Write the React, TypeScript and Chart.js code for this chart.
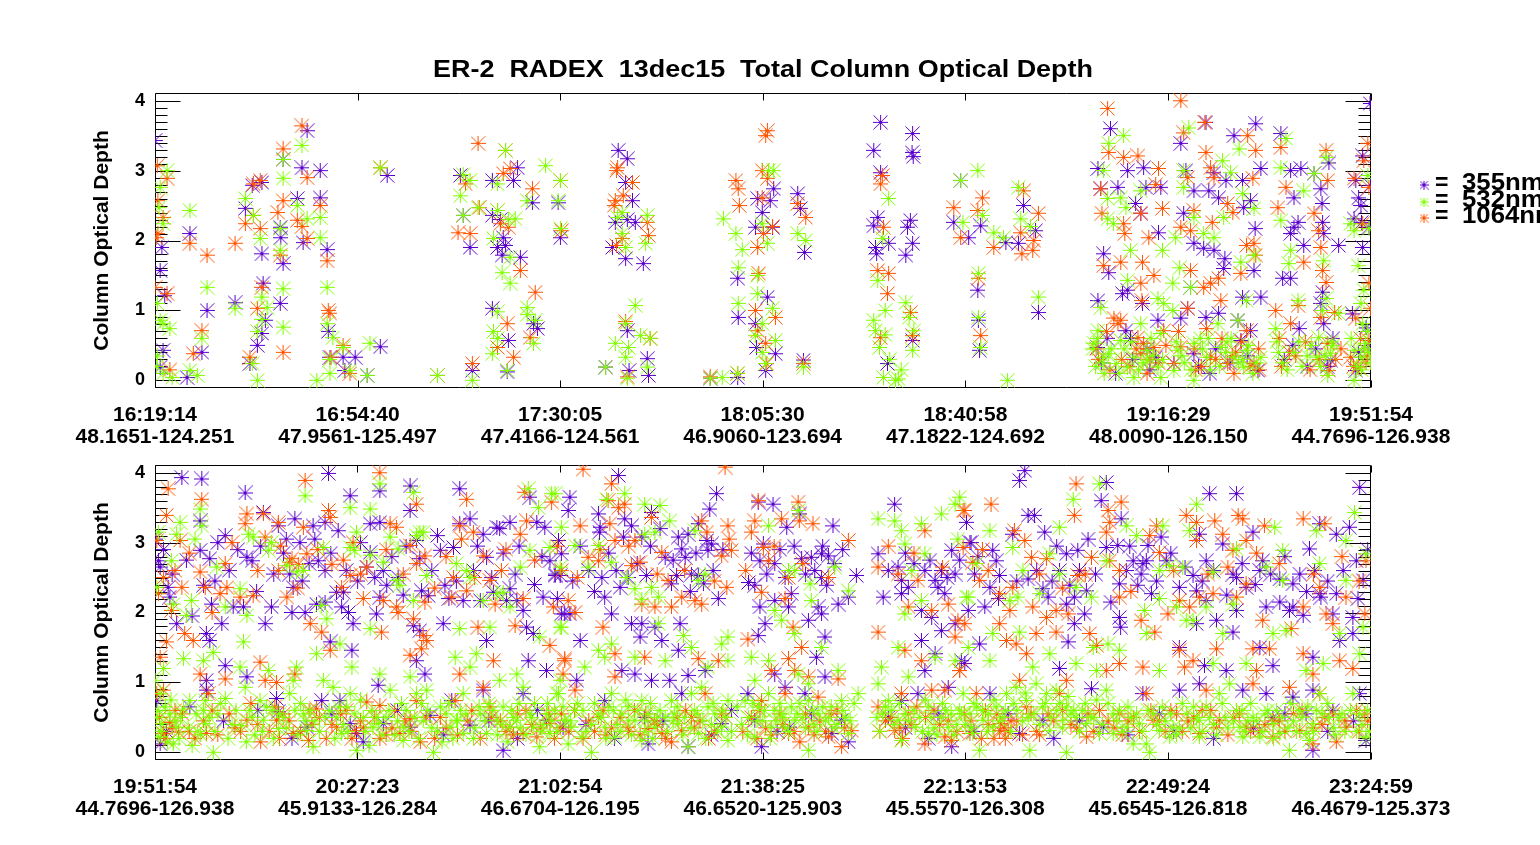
import React, { useEffect, useRef } from "react";
import { Chart, registerables } from "chart.js";

Chart.register(...registerables);

// ---------- axis labels ----------
const topTimes = ["16:19:14", "16:54:40", "17:30:05", "18:05:30", "18:40:58", "19:16:29", "19:51:54"];
const topCoords = ["48.1651-124.251", "47.9561-125.497", "47.4166-124.561", "46.9060-123.694", "47.1822-124.692", "48.0090-126.150", "44.7696-126.938"];
const botTimes = ["19:51:54", "20:27:23", "21:02:54", "21:38:25", "22:13:53", "22:49:24", "23:24:59"];
const botCoords = ["44.7696-126.938", "45.9133-126.284", "46.6704-126.195", "46.6520-125.903", "45.5570-126.308", "45.6545-126.818", "46.4679-125.373"];
const yTicks = [0, 1, 2, 3, 4];
const titleText = "ER-2  RADEX  13dec15  Total Column Optical Depth";
const yTitle = "Column Optical Depth";
const legendLabels = ["355nm", "532nm", "1064nm"];

// ---------- data: [minutes after panel start, column optical depth] ----------
const top355 = [
[0.0,3.43],[0.9,1.57],[1.7,1.21],[1.2,1.9],[1.4,0.43],[0.9,0.19],[8.2,0.4],[5.6,0.04],[6.1,2.1],[9.1,1.0],[14.0,1.11],[17.0,2.79],[18.7,2.83],[15.8,2.46],[18.7,1.81],[18.9,1.39],[19.3,0.86],[18.7,0.67],[17.9,0.5],[16.6,0.24],[22.4,3.16],[26.6,3.57],[25.7,3.04],[28.9,3.0],[21.9,2.19],[22.0,2.04],[22.4,1.67],[21.9,1.1],[24.9,2.6],[25.9,1.97],[28.9,2.61],[30.1,1.87],[30.3,0.7],[30.6,0.33],[35.0,0.33],[32.9,0.33],[33.2,0.14],[37.1,0.07],[39.4,0.48],[40.6,2.93],[49.4,0.07],[55.5,0.14],[53.4,2.93],[53.9,2.36],[55.1,1.9],[59.0,2.86],[62.7,2.86],[63.4,3.04],[59.0,2.36],[60.4,2.3],[60.9,2.04],[59.9,1.9],[60.7,1.79],[61.3,1.93],[63.9,1.76],[66.0,2.54],[59.0,1.03],[61.8,0.57],[61.6,0.12],[66.2,0.81],[66.9,0.74],[70.5,2.54],[70.9,2.04],[81.0,3.29],[82.6,3.17],[82.3,2.83],[83.5,2.57],[80.5,2.26],[82.6,2.3],[84.0,2.26],[80.0,1.9],[82.3,1.74],[85.4,1.67],[82.6,0.71],[86.1,0.31],[86.3,0.07],[82.9,0.14],[78.8,0.19],[97.1,0.03],[101.9,0.04],[105.4,2.6],[107.6,2.57],[108.2,2.74],[105.0,2.19],[108.0,2.19],[106.2,2.4],[101.9,1.46],[102.0,0.9],[107.1,1.19],[105.0,0.81],[105.2,0.47],[108.5,0.38],[106.8,0.14],[112.4,2.67],[112.9,2.46],[113.6,1.83],[113.4,0.29],[126.9,3.69],[125.7,3.29],[132.5,3.53],[132.4,3.26],[132.6,3.2],[126.9,2.97],[126.4,2.33],[125.7,2.21],[126.0,1.9],[126.2,1.81],[128.3,1.96],[132.1,2.29],[132.5,1.96],[131.3,1.79],[131.6,2.19],[128.1,0.24],[132.5,0.57],[140.9,2.86],[139.7,2.26],[142.3,2.04],[144.4,2.21],[148.8,1.97],[151.9,2.5],[151.0,1.96],[154.0,2.14],[143.9,1.29],[144.0,0.86],[144.2,0.43],[154.5,0.97],[167.1,3.6],[164.9,3.03],[170.1,3.0],[172.9,3.04],[165.4,2.74],[168.4,2.76],[171.5,2.53],[172.4,2.39],[175.5,2.11],[175.9,2.76],[173.3,2.76],[165.9,1.81],[166.8,1.54],[170.1,1.29],[169.2,1.24],[172.7,1.1],[164.9,1.14],[169.8,0.71],[164.9,0.47],[175.4,0.86],[175.0,0.33],[170.6,0.6],[179.4,3.39],[183.8,3.69],[180.3,3.0],[185.2,2.97],[181.7,2.71],[184.3,2.71],[186.0,2.61],[187.3,2.86],[188.7,3.5],[192.5,3.67],[193.4,3.03],[190.2,2.86],[190.4,2.47],[191.6,2.57],[179.9,2.39],[181.7,1.96],[183.4,1.89],[185.2,1.86],[186.9,1.6],[192.2,1.57],[187.1,1.74],[192.4,2.17],[181.1,1.33],[190.2,1.19],[193.4,1.19],[186.0,0.96],[180.6,1.03],[179.4,0.89],[183.8,0.9],[189.4,0.86],[191.6,0.71],[181.7,0.38],[189.9,0.57],[192.9,0.14],[178.2,0.24],[196.9,3.53],[198.6,3.0],[200.4,3.03],[199.2,2.61],[199.9,2.26],[199.2,2.19],[198.6,2.1],[200.9,1.93],[197.2,1.46],[198.6,1.46],[200.1,0.74],[202.7,2.96],[203.9,2.74],[204.1,2.53],[204.2,2.26],[204.4,2.1],[205.3,3.11],[207.0,1.93],[204.2,1.26],[203.9,1.1],[204.4,0.81],[205.6,0.29],[205.0,0.2],[212.5,3.96],[211.2,3.21],[210.0,2.86],[212.6,2.79],[210.5,2.61],[210.9,2.5],[209.7,2.31],[211.0,2.26],[212.3,2.19],[211.2,1.9],[210.0,0.14],[212.3,0.5],
[165.5,0.25],[168.0,0.1],[171.0,0.3],[174.0,0.15],[166.5,0.6],[173.5,0.45],[182.5,0.2],[185.5,0.45],[188.0,0.25],[191.0,0.35],[184.5,0.1],[197.5,0.3],[199.0,0.5],[201.5,0.2],[203.0,0.45],[206.0,0.6],[210.5,0.4],[211.8,0.75],[209.4,0.95]
];

const top532 = [
[2.1,3.0],[0.9,2.76],[0.7,2.47],[1.4,2.24],[0.4,1.1],[1.4,0.81],[2.6,0.74],[0.9,0.86],[0.4,0.35],[1.4,0.1],[3.0,0.04],[0.3,0.2],[8.2,0.6],[6.1,0.14],[7.4,0.07],[6.1,2.43],[9.1,1.33],[14.0,1.03],[15.8,2.6],[17.2,2.36],[18.4,2.03],[18.7,1.19],[19.6,1.04],[18.7,0.87],[17.9,0.7],[17.0,0.24],[17.9,0.0],[22.4,3.16],[25.7,3.36],[22.4,2.89],[21.9,2.17],[21.9,1.86],[22.4,1.31],[22.4,0.76],[24.9,2.5],[26.6,2.31],[28.9,2.33],[28.9,2.04],[30.1,1.33],[30.1,0.81],[31.1,0.61],[30.6,0.3],[30.6,0.1],[28.3,0.0],[32.9,0.47],[34.1,0.14],[37.1,0.07],[37.6,0.53],[39.4,3.04],[49.4,0.07],[55.5,0.0],[53.9,2.94],[55.1,2.86],[53.4,2.64],[53.9,2.36],[56.5,2.47],[59.9,2.81],[61.3,3.29],[59.9,2.43],[61.8,2.3],[63.0,2.31],[59.2,2.03],[62.1,1.76],[60.7,1.54],[62.1,1.39],[65.1,2.57],[68.3,3.07],[59.9,0.98],[59.2,0.7],[59.9,0.6],[59.0,0.38],[61.6,0.14],[65.1,1.04],[65.1,0.94],[66.5,0.86],[66.2,0.53],[70.5,2.57],[70.9,2.86],[70.9,2.17],[80.9,2.33],[81.7,2.4],[86.1,2.36],[81.7,2.1],[82.3,1.9],[85.8,1.96],[84.0,1.07],[82.3,0.81],[80.5,0.53],[82.8,0.47],[86.6,0.6],[84.9,0.64],[86.1,0.19],[82.6,0.03],[82.3,0.33],[78.8,0.19],[97.1,0.03],[99.2,0.04],[101.9,0.1],[99.4,2.31],[101.6,2.1],[102.7,1.87],[107.3,3.0],[108.2,3.0],[106.2,2.24],[107.1,1.96],[102.0,1.61],[105.4,1.5],[102.0,1.1],[105.4,1.24],[108.0,1.03],[106.2,0.81],[105.0,0.64],[108.5,0.57],[106.2,0.4],[106.8,0.24],[112.4,2.1],[113.8,2.0],[113.4,0.19],[128.3,2.6],[127.2,2.03],[126.4,1.43],[127.7,1.0],[131.3,1.11],[131.9,0.9],[125.7,0.86],[126.0,0.71],[127.7,0.65],[126.7,0.47],[127.4,0.04],[129.5,0.0],[130.0,0.02],[132.7,0.71],[132.5,0.43],[140.9,2.86],[141.3,2.26],[143.9,3.0],[144.7,2.36],[146.7,2.11],[148.4,2.04],[151.0,2.76],[151.4,2.31],[153.1,2.2],[144.0,1.53],[144.0,0.9],[144.4,0.47],[154.5,1.19],[149.1,0.0],[166.8,3.39],[169.4,3.5],[165.9,3.0],[168.9,2.61],[169.8,2.47],[166.6,2.31],[167.6,2.24],[166.6,2.6],[172.4,2.71],[176.2,1.86],[170.6,1.86],[170.1,1.43],[175.4,1.17],[176.4,1.1],[165.4,1.04],[164.9,0.71],[164.2,0.53],[166.8,0.38],[168.1,0.24],[170.1,0.19],[171.2,0.04],[173.5,0.29],[175.9,0.67],[175.9,0.04],[165.9,0.33],[172.4,0.81],[164.0,0.45],[168.9,0.57],[171.2,0.33],[173.5,0.43],[175.4,0.19],[180.8,3.61],[179.9,3.0],[186.7,3.14],[188.1,2.97],[189.6,3.31],[179.9,2.76],[190.2,2.67],[186.9,2.33],[192.2,2.46],[181.7,2.33],[178.5,2.04],[183.4,2.1],[185.2,2.04],[179.2,1.61],[178.0,1.39],[189.9,1.69],[192.2,1.79],[181.1,1.33],[190.9,1.14],[178.0,1.0],[185.9,0.81],[189.4,0.86],[178.9,0.43],[181.7,0.53],[183.9,0.33],[186.4,0.47],[188.7,0.33],[190.9,0.43],[193.4,0.33],[190.4,0.19],[181.7,0.0],[178.2,0.14],[197.8,3.46],[196.9,3.04],[200.9,2.71],[196.9,2.29],[198.6,1.86],[198.3,1.67],[199.9,1.14],[196.0,0.74],[202.7,2.96],[204.8,3.19],[204.4,1.71],[204.8,1.17],[204.2,1.0],[207.0,0.96],[203.5,0.61],[205.6,0.38],[205.1,0.07],[203.2,0.33],[212.1,2.93],[209.1,2.24],[212.3,2.17],[209.7,2.14],[210.4,1.64],[211.4,1.29],[210.9,1.1],[211.2,0.81],[211.7,0.53],[209.7,0.43],[210.9,0.33],[209.7,0.0],[212.3,0.4],
[164.5,0.2],[166.0,0.1],[169.5,0.45],[172.0,0.15],[174.5,0.35],[180.0,0.25],[182.8,0.6],[184.5,0.15],[187.5,0.55],[189.5,0.25],[192.0,0.1],[196.5,0.4],[198.0,0.15],[200.0,0.55],[201.5,0.35],[203.8,0.2],[206.0,0.5],[211.0,0.15],[212.0,0.7],[128.5,0.3],[130.5,0.15],
[164.8,0.6],[165.8,0.25],[167.2,0.45],[168.6,0.1],[170.8,0.55],[172.8,0.25],[174.2,0.6],[176.2,0.3],[178.6,0.55],[179.6,0.35],[181.2,0.15],[183.2,0.45],[184.2,0.6],[186.2,0.2],[187.2,0.4],[188.2,0.6],[190.2,0.3],[191.2,0.5],[192.6,0.25],[196.2,0.55],[197.2,0.25],[199.2,0.4],[200.6,0.2],[202.2,0.5],[204.6,0.35],[205.8,0.55],[209.2,0.6],[210.2,0.2],[211.5,0.45],[212.6,0.25]
];

const top1064 = [
[0.4,3.07],[2.1,2.89],[0.2,2.04],[0.0,1.33],[2.1,1.24],[0.5,2.1],[1.4,2.33],[0.5,2.57],[8.2,0.71],[6.7,0.38],[6.1,1.96],[9.1,1.79],[2.6,0.15],[14.0,1.96],[17.2,2.81],[18.4,2.86],[15.8,2.24],[17.2,2.36],[18.4,2.17],[18.7,1.33],[17.9,1.03],[16.6,0.33],[22.4,3.31],[25.7,3.64],[26.6,2.9],[22.4,2.57],[21.5,2.4],[21.9,1.79],[22.4,0.4],[24.9,2.29],[25.7,2.2],[26.6,2.03],[28.9,2.5],[30.1,1.71],[30.3,1.0],[30.6,0.96],[30.8,0.33],[32.9,0.5],[34.1,0.1],[39.4,3.04],[49.4,0.07],[55.5,0.24],[54.3,2.81],[53.0,2.11],[55.1,2.1],[56.5,3.39],[56.7,2.47],[60.9,2.96],[62.1,3.03],[61.3,3.29],[59.9,2.43],[60.4,2.24],[61.8,2.19],[63.9,1.57],[66.0,2.74],[66.5,1.26],[61.6,0.81],[59.9,0.47],[62.7,0.33],[65.6,0.61],[70.9,2.86],[71.1,2.14],[80.9,3.04],[80.7,3.0],[83.5,2.83],[81.9,2.64],[80.5,2.57],[80.3,2.5],[86.1,2.26],[86.3,2.07],[81.7,2.03],[80.7,1.93],[82.3,0.84],[86.6,0.6],[82.6,0.05],[97.1,0.05],[101.9,0.1],[101.6,2.86],[102.0,2.74],[102.2,2.5],[106.2,2.61],[107.1,2.89],[106.2,3.0],[107.1,3.57],[106.8,3.5],[106.4,2.1],[108.0,2.2],[105.4,1.9],[105.6,1.53],[105.0,1.0],[108.5,0.9],[105.4,0.71],[106.8,0.53],[107.0,0.24],[112.4,2.53],[113.8,2.33],[113.4,0.24],[127.2,2.93],[126.9,2.81],[127.4,2.19],[126.4,1.57],[128.3,1.53],[128.1,1.24],[126.9,0.61],[132.1,0.97],[132.5,0.64],[139.7,2.47],[140.9,2.04],[144.7,2.61],[143.9,2.43],[146.7,1.9],[151.9,2.71],[151.4,2.11],[151.6,1.81],[153.7,2.0],[154.5,2.39],[153.5,1.86],[144.0,1.46],[144.4,0.64],[166.6,3.89],[166.8,3.26],[169.4,3.19],[171.9,3.21],[175.5,3.03],[165.4,2.74],[165.6,2.39],[169.4,2.24],[169.6,2.1],[172.4,2.39],[176.2,2.46],[175.0,2.8],[173.8,2.04],[165.9,1.64],[168.9,1.69],[172.7,1.69],[174.7,1.5],[172.4,1.39],[172.6,1.14],[167.7,0.89],[168.9,0.86],[168.4,0.81],[172.4,0.38],[172.9,0.53],[174.7,0.47],[171.9,0.61],[176.4,0.71],[179.4,4.0],[179.9,3.54],[183.6,3.69],[180.6,2.9],[183.8,3.26],[184.6,3.04],[185.2,2.9],[191.1,3.5],[192.5,3.29],[192.0,2.89],[187.6,2.53],[188.5,2.4],[181.7,2.43],[179.4,2.19],[181.1,2.14],[184.9,2.26],[181.1,1.57],[183.4,1.33],[186.0,1.46],[189.9,1.53],[192.5,1.79],[190.9,1.93],[192.2,1.96],[184.6,1.39],[186.4,1.14],[180.6,1.03],[183.9,0.74],[190.9,0.71],[179.4,0.48],[184.6,0.33],[187.6,0.24],[192.2,0.24],[188.7,0.1],[178.2,0.24],[196.9,3.33],[197.8,2.76],[196.4,2.47],[200.9,1.69],[199.9,1.07],[196.0,1.0],[198.6,0.81],[205.1,2.86],[202.7,2.39],[203.5,2.14],[203.9,1.9],[204.8,3.29],[204.2,1.57],[204.8,1.4],[206.3,0.97],[203.9,0.9],[205.1,0.53],[205.3,0.14],[212.1,3.39],[211.4,3.14],[209.7,2.89],[212.3,2.76],[211.2,2.24],[212.3,1.39],[212.6,1.03],[210.0,0.89],[212.3,0.57],[209.1,0.33],[210.4,0.19],
[165.0,0.3],[167.0,0.15],[170.5,0.2],[173.5,0.1],[175.5,0.25],[182.0,0.15],[185.5,0.3],[189.0,0.4],[191.5,0.2],[193.0,0.45],[197.0,0.2],[199.5,0.35],[202.0,0.15],[206.5,0.3],[210.8,0.6],[211.8,0.25],
[164.6,0.45],[166.4,0.7],[169.0,0.3],[171.6,0.45],[174.0,0.3],[176.8,0.5],[179.0,0.7],[181.8,0.45],[183.0,0.2],[186.6,0.6],[188.4,0.35],[190.0,0.55],[193.2,0.15],[196.6,0.6],[198.4,0.4],[201.2,0.55],[203.6,0.3],[207.4,0.45],[209.6,0.2],[212.0,0.35]
];

const bot355 = [
[4.7,3.93],[8.2,3.91],[15.8,3.71],[30.4,3.99],[34.2,3.67],[39.4,3.74],[44.7,3.81],[53.4,3.77],[65.7,3.65],[0.0,3.05],[0.6,2.74],[0.9,2.65],[2.3,2.36],[2.6,2.22],[3.8,1.84],[7.9,3.31],[7.9,2.89],[9.6,2.77],[8.5,2.39],[9.9,2.12],[9.0,1.7],[9.6,1.6],[11.7,1.84],[12.3,3.1],[16.1,2.79],[17.0,2.74],[15.5,2.08],[13.7,2.08],[12.3,1.24],[20.4,2.08],[19.3,1.84],[19.0,3.43],[21.6,3.24],[24.5,3.34],[25.4,3.0],[23.6,2.55],[24.0,2.0],[24.2,2.36],[26.3,2.0],[27.7,3.24],[29.8,3.29],[32.1,3.17],[28.6,2.74],[29.8,2.6],[28.3,2.12],[29.8,2.15],[31.8,2.29],[33.0,2.29],[33.9,2.0],[34.7,1.84],[34.5,1.46],[30.7,1.58],[32.7,2.08],[37.1,2.65],[37.7,3.27],[39.4,3.29],[37.7,2.86],[40.0,2.6],[39.4,2.22],[38.8,1.98],[40.6,2.39],[42.6,2.5],[44.7,3.46],[45.8,3.03],[46.4,2.77],[46.7,2.31],[45.3,1.81],[46.4,1.74],[45.8,1.31],[47.3,1.12],[47.9,2.24],[50.0,2.89],[50.8,2.39],[50.5,1.84],[52.3,2.93],[53.4,3.27],[55.2,3.34],[57.5,3.12],[58.1,2.79],[57.0,2.17],[54.0,2.17],[58.1,1.6],[59.9,3.22],[60.4,3.2],[62.2,3.29],[63.1,2.55],[62.2,2.34],[63.4,2.17],[64.5,2.03],[65.1,1.79],[66.3,1.7],[66.9,3.29],[68.3,3.22],[69.2,2.74],[70.1,2.53],[71.0,2.53],[68.0,2.22],[71.8,1.98],[65.4,1.31],[68.6,1.17],[59.3,2.29],[61.6,2.17],
[0.3,0.74],[0.9,0.12],[9.0,1.03],[9.0,0.89],[6.1,0.65],[16.1,1.08],[21.3,0.77],[21.6,0.58],[26.6,0.36],[29.2,0.74],[32.4,0.74],[34.2,0.41],[35.3,0.27],[39.1,0.96],[40.0,0.41],[44.7,0.36],[48.2,0.53],[52.0,0.74],[55.2,0.39],[57.5,0.89],[61.0,0.03],[64.5,0.84],[68.6,0.46],[71.5,0.36],
[81.2,3.96],[72.7,3.65],[98.4,3.7],[72.4,3.46],[77.7,3.41],[78.0,3.22],[77.9,3.15],[82.3,3.34],[83.5,3.24],[87.0,3.43],[82.1,3.08],[85.3,3.08],[91.7,3.08],[93.4,3.12],[95.2,3.27],[97.2,3.48],[96.7,3.03],[97.5,2.98],[96.9,2.89],[92.3,2.91],[92.9,2.79],[89.4,2.79],[70.7,3.03],[71.2,2.84],[70.1,2.55],[78.3,2.5],[81.5,2.36],[82.9,2.5],[86.1,2.53],[91.4,2.53],[90.5,2.41],[94.0,2.55],[95.2,2.53],[96.1,2.41],[98.7,2.2],[78.8,2.22],[80.0,1.98],[83.5,1.84],[85.3,1.84],[85.0,1.65],[87.6,1.79],[92.0,1.84],[91.7,1.46],[88.8,1.6],[71.2,1.98],[72.7,1.98],[74.5,1.6],[93.4,1.1],[96.4,1.17],[73.9,1.03],[81.8,1.17],[84.1,1.12],[87.0,1.03],[90.2,1.03],[92.3,0.84],[78.8,0.74],[85.8,0.5],[93.4,0.08],[86.4,0.12],[99.3,0.41],
[105.7,3.58],[108.3,3.55],[113.0,3.41],[110.7,3.22],[106.6,2.98],[108.6,2.7],[118.8,3.24],[115.0,2.79],[116.8,2.84],[118.0,2.81],[113.3,2.77],[104.0,2.43],[105.1,2.39],[106.0,2.74],[110.4,2.5],[111.5,2.27],[115.6,2.6],[116.8,2.5],[117.7,2.39],[122.9,2.53],[119.7,2.12],[121.5,2.22],[106.0,2.08],[108.6,2.17],[111.0,2.08],[114.5,1.89],[116.2,2.08],[116.8,1.98],[106.9,1.84],[105.7,1.67],[117.4,1.65],[115.9,1.36],[103.9,0.84],[108.6,1.12],[110.4,0.93],[113.9,0.84],[117.4,1.08],[106.3,0.08],[105.1,0.46],[120.3,0.46],[118.6,0.27],[111.2,0.36],
[129.6,3.55],[126.7,2.84],[139.6,2.89],[130.2,2.65],[130.8,2.46],[134.9,2.6],[136.7,2.46],[137.2,2.36],[138.4,2.27],[137.8,2.6],[140.2,2.55],[142.8,3.0],[127.6,2.22],[130.8,2.27],[132.0,2.36],[134.3,2.03],[136.1,1.93],[137.8,1.74],[140.2,1.84],[142.5,2.03],[134.3,1.6],[136.7,1.41],[141.3,1.31],[134.9,1.17],[133.7,0.84],[139.0,0.93],[128.5,0.5],[139.6,0.08],[130.8,0.74],[137.2,0.55],
[152.4,4.03],[151.5,3.89],[166.7,3.86],[165.8,3.6],[184.8,3.7],[189.5,3.7],[211.1,3.79],[142.2,3.29],[153.0,3.39],[154.1,3.39],[150.3,3.12],[155.9,3.15],[143.0,3.0],[146.8,2.89],[163.5,3.05],[166.7,2.93],[168.7,2.96],[169.3,3.34],[174.0,2.96],[176.3,3.08],[183.0,3.12],[187.1,2.98],[192.4,3.15],[204.1,3.27],[209.3,3.22],[202.3,2.91],[207.0,3.12],[159.7,2.84],[161.7,2.89],[147.4,2.74],[143.6,2.55],[148.0,2.53],[146.3,2.36],[145.4,2.08],[153.0,2.48],[155.6,2.34],[156.5,2.22],[158.5,2.6],[160.3,2.39],[161.1,2.22],[163.2,2.31],[159.7,2.12],[162.9,1.98],[161.1,1.84],[169.0,2.41],[171.4,2.74],[173.1,2.7],[173.7,2.74],[170.2,2.6],[174.6,2.27],[172.2,2.39],[169.0,1.93],[169.2,1.79],[177.2,2.74],[179.5,2.36],[181.9,2.53],[184.2,2.74],[182.5,2.31],[184.2,2.17],[182.5,1.84],[186.0,1.89],[188.9,2.55],[189.5,2.5],[191.2,2.36],[194.1,2.74],[193.6,2.6],[197.1,2.48],[199.4,2.41],[200.6,2.55],[194.7,2.08],[197.1,2.15],[198.8,2.03],[199.4,2.08],[204.1,2.27],[204.3,2.22],[207.0,2.27],[211.7,2.46],[210.5,2.74],[189.5,2.03],[188.9,1.72],[201.2,1.96],[206.4,1.98],[209.9,1.93],[209.9,1.7],[207.6,1.6],[144.5,1.55],[141.9,1.27],[160.0,1.58],[179.5,1.5],[183.9,1.24],[187.7,1.17],[195.9,1.24],[193.6,1.5],[202.9,1.36],[146.3,0.84],[158.5,1.2],[164.1,0.91],[173.1,0.84],[179.5,0.89],[183.0,0.98],[190.6,0.89],[194.7,0.84],[199.4,0.79],[202.9,0.89],[151.5,0.27],[155.6,0.46],[166.1,0.36],[176.0,0.55],[195.9,0.5],[201.7,0.55],[206.4,0.6],[202.9,0.03],[211.1,0.84],[212.2,0.17],
[2.0,0.3],[12.0,0.45],[18.0,0.6],[24.0,0.2],[31.0,0.55],[36.5,0.15],[42.5,0.6],[50.5,0.25],[58.5,0.45],[63.5,0.2],[67.0,0.6],[75.5,0.4],[80.5,0.2],[89.0,0.45],[97.5,0.25],[101.0,0.6],[109.0,0.3],[115.0,0.55],[121.5,0.15],[131.5,0.35],[135.5,0.2],[143.5,0.3],[149.5,0.55],[157.5,0.2],[162.0,0.45],[170.5,0.25],[178.5,0.3],[185.5,0.2],[192.5,0.35],[198.0,0.55],[205.5,0.3],[210.0,0.45],
[1.5,2.9],[3.0,2.55],[5.5,2.75],[6.5,1.95],[10.5,2.45],[11.0,3.0],[13.0,2.6],[14.5,2.9],[17.8,2.3],[18.5,2.95],[20.8,2.55],[22.5,2.85],[23.0,3.05],[25.8,2.45],[27.0,2.7],[28.0,3.05],[30.8,2.85],[33.5,2.6],[35.5,2.45],[36.0,3.0],[38.5,2.5],[41.5,2.8],[43.5,2.25],[44.0,2.95],[48.5,2.6],[49.5,3.1],[51.5,2.2],[52.8,2.45],[55.8,2.6],[56.5,2.95],[59.0,2.5],[61.0,2.85],[63.8,2.95],[66.5,2.4],[67.8,2.8],[70.5,2.2],[73.2,2.45],[74.5,2.95],[76.0,2.6],[77.0,2.3],[79.5,2.85],[80.8,2.6],[84.5,2.7],[86.8,2.95],[88.5,3.2],[90.8,2.75],[93.8,2.3],[94.8,2.85],[97.8,2.6],[99.5,2.9],[104.5,2.85],[107.2,2.55],[109.5,2.9],[112.0,2.95],[114.0,2.55],[117.0,2.95],[119.0,2.7],[120.5,2.9],[128.5,2.6],[131.5,2.85],[133.0,2.7],[135.8,2.75],[138.8,2.5],[141.0,2.75],[144.2,2.8],[147.8,2.2],[151.0,2.45],[154.5,2.6],[157.2,2.45],[158.0,2.95],[162.0,2.6],[164.8,2.55],[167.5,2.15],[170.8,2.95],[172.8,2.55],[175.5,2.45],[178.0,2.85],[180.5,2.65],[183.5,2.45],[185.5,2.6],[187.8,2.25],[190.5,2.7],[192.8,2.4],[195.5,2.55],[198.0,2.8],[201.8,2.3],[203.2,2.6],[205.5,2.45],[208.2,2.6],[210.8,2.2],[212.5,2.9]
];

const bot532 = [
[7.9,3.48],[4.4,3.29],[0.6,3.15],[3.8,3.12],[8.2,3.24],[7.0,3.05],[34.2,3.5],[26.3,3.67],[39.4,3.84],[37.7,3.48],[45.3,3.72],[46.4,3.15],[65.4,3.77],[69.5,3.7],[67.2,3.5],[16.4,3.12],[20.4,3.0],[19.9,2.89],[17.2,3.08],[23.1,2.67],[24.8,2.58],[26.0,2.6],[29.5,2.93],[34.2,2.93],[35.3,3.15],[35.0,2.89],[37.7,2.82],[40.0,2.72],[42.6,2.91],[42.3,2.46],[42.9,2.39],[41.2,3.08],[45.8,3.1],[47.0,3.15],[45.3,2.17],[47.6,2.53],[52.8,2.7],[54.6,2.6],[55.2,2.5],[57.5,2.17],[59.9,2.27],[61.0,2.29],[62.2,2.08],[64.0,2.65],[65.7,2.89],[69.2,2.93],[71.0,2.65],[71.2,1.79],[67.4,1.65],[58.7,1.79],[53.4,1.77],[37.7,1.77],[29.2,2.1],[30.1,1.91],[32.4,1.55],[28.3,1.41],[2.9,2.74],[3.2,2.12],[0.3,2.36],[5.5,1.96],[6.4,2.17],[10.8,2.65],[12.3,2.08],[14.9,2.34],[16.1,1.96],[10.2,1.43],[8.5,1.31],[5.0,1.34],[1.5,1.2],[15.5,1.58],
[0.0,1.03],[0.9,0.84],[0.3,0.5],[1.2,0.41],[2.6,0.55],[3.8,0.36],[0.6,0.22],[3.2,0.12],[6.1,0.74],[8.5,0.6],[8.8,0.41],[8.8,0.74],[10.2,0.0],[12.3,0.77],[14.9,1.22],[15.8,0.93],[16.6,0.6],[18.4,0.74],[19.0,0.46],[19.9,1.17],[21.6,0.34],[23.6,0.84],[24.8,1.22],[24.2,1.03],[26.0,0.55],[26.6,0.31],[27.7,0.08],[29.5,1.03],[31.2,0.93],[31.8,0.5],[32.7,0.27],[33.6,0.65],[34.5,1.22],[34.2,0.84],[35.3,0.03],[36.5,0.5],[38.2,0.36],[39.4,1.12],[39.1,0.41],[41.2,0.89],[43.5,0.36],[43.5,0.17],[44.7,1.08],[45.8,0.84],[46.7,0.7],[47.6,0.89],[48.8,0.0],[50.0,0.65],[51.7,0.36],[52.8,0.46],[52.6,1.36],[54.0,0.84],[55.2,1.22],[57.0,0.55],[58.1,0.27],[59.9,0.46],[61.0,0.65],[62.2,0.36],[63.4,0.46],[64.5,0.93],[65.7,0.55],[66.3,0.36],[67.4,0.08],[68.6,0.55],[69.2,0.27],[70.4,0.84],[71.0,1.03],[71.8,0.46],[54.0,0.27],[63.4,1.12],[56.3,1.41],[60.4,1.03],
[70.1,3.7],[82.3,3.7],[79.1,3.62],[85.8,3.55],[88.5,3.53],[90.2,3.31],[71.2,3.22],[77.7,2.96],[73.6,2.96],[85.8,3.12],[87.6,3.15],[94.6,3.17],[75.9,2.65],[80.0,2.72],[82.6,2.5],[84.1,2.34],[87.0,2.36],[95.2,2.46],[96.4,2.55],[71.0,1.79],[88.2,2.22],[85.3,2.19],[88.2,1.84],[92.6,1.67],[100.4,1.65],[99.3,1.55],[94.0,1.5],[77.7,1.46],[80.0,1.55],[75.3,1.22],[78.8,1.36],[84.1,1.36],[89.4,1.31],[96.9,1.22],[100.4,1.31],
[70.7,0.84],[71.8,0.46],[73.0,0.36],[73.6,0.6],[74.8,0.22],[76.5,0.0],[77.7,0.55],[78.8,0.36],[80.0,0.84],[81.8,0.55],[82.9,0.65],[84.1,0.46],[85.3,0.74],[86.4,0.55],[87.6,0.36],[89.4,0.5],[90.5,0.74],[91.7,0.41],[93.4,0.08],[94.0,0.84],[95.8,0.93],[96.9,0.65],[98.1,0.55],[99.3,0.36],[100.4,0.74],[95.2,0.27],[85.3,0.17],[80.6,0.22],[72.4,0.12],[100.4,0.17],
[107.5,3.24],[112.7,3.46],[111.0,2.6],[112.1,2.6],[114.8,2.41],[119.1,2.65],[121.5,2.31],[108.6,2.03],[115.0,2.17],[109.8,1.89],[112.1,1.7],[116.8,1.5],[104.5,1.36],[105.1,1.03],[107.5,1.31],[112.7,1.12],[114.5,0.98],[119.7,1.17],[103.4,0.74],[105.7,0.65],[107.5,0.84],[109.8,0.55],[112.1,0.46],[114.5,0.74],[116.2,0.55],[118.0,0.5],[120.3,0.74],[123.2,0.84],[105.1,0.22],[114.5,0.03],[121.5,0.27],[108.0,0.36],
[126.7,3.34],[129.6,3.31],[130.8,3.17],[140.2,3.55],[137.8,3.41],[134.3,3.27],[131.4,2.98],[134.9,2.84],[132.6,2.6],[140.7,3.05],[142.5,2.22],[131.4,1.98],[134.3,2.17],[130.2,1.5],[136.7,1.36],[140.2,1.31],[142.5,1.5],[127.3,1.22],[126.7,0.98],[132.0,1.08],[128.5,0.74],[130.2,0.46],[133.2,0.36],[135.5,0.65],[137.8,0.5],[139.0,0.36],[141.3,0.55],[143.1,0.36],[130.8,0.17],[135.5,0.27],
[160.9,3.62],[165.5,3.84],[182.5,3.55],[210.2,3.43],[146.3,3.17],[158.5,3.22],[170.2,3.24],[172.0,3.1],[176.6,3.24],[181.3,3.17],[189.5,2.91],[196.2,3.22],[197.6,2.89],[203.5,3.17],[208.7,3.03],[212.2,2.84],[143.9,2.7],[141.0,3.65],[150.3,2.93],[152.1,2.6],[156.8,2.84],[158.5,2.55],[161.4,2.36],[166.7,2.74],[176.0,2.6],[177.8,2.67],[180.1,2.65],[185.4,2.58],[194.7,2.65],[197.6,2.46],[204.1,2.7],[208.7,2.46],[142.2,2.22],[149.8,2.17],[151.2,2.22],[155.0,2.27],[164.1,2.22],[173.4,2.03],[176.0,2.2],[179.0,2.08],[184.2,2.08],[188.9,2.12],[180.7,1.89],[181.9,1.89],[187.1,1.7],[195.9,1.7],[198.2,1.74],[211.7,1.79],[207.6,1.7],[146.8,1.7],[151.5,1.72],[156.8,1.41],[164.4,1.5],[167.0,1.55],[169.0,1.46],[173.7,1.7],[146.3,1.31],[153.8,1.22],[161.4,1.27],[165.0,1.17],[176.0,1.17],[185.4,1.27],[191.2,1.27],[201.7,1.17],[204.7,1.27],[211.1,1.41],
[141.6,0.84],[142.8,0.55],[145.1,0.46],[147.4,0.65],[149.2,0.84],[150.9,0.93],[152.7,0.74],[154.4,0.98],[156.2,0.84],[157.9,0.89],[159.7,0.65],[161.4,0.5],[163.2,0.41],[166.7,0.89],[167.9,0.55],[167.9,0.27],[170.2,0.36],[172.5,0.41],[173.7,0.12],[174.3,0.0],[176.0,0.31],[177.8,0.22],[180.7,0.55],[183.0,0.46],[184.2,0.65],[186.5,0.84],[188.3,0.98],[190.1,0.36],[192.4,0.5],[193.6,0.22],[195.9,0.41],[197.1,0.27],[198.8,0.03],[201.7,0.27],[202.9,0.41],[204.1,0.84],[205.8,0.5],[209.9,0.84],[211.1,0.55],[212.2,0.22],[144.5,0.03],[153.3,0.03],[159.7,0.0],[143.3,0.27],[146.8,0.36],[156.8,0.31],[159.1,0.46],[165.5,0.27],[171.4,0.12],[178.4,0.36],[183.0,0.22],[190.6,0.22],[202.3,0.17],
[1.8,0.65],[4.5,0.5],[7.5,0.3],[11.0,0.55],[13.5,0.4],[17.5,0.25],[20.5,0.6],[22.5,0.5],[25.5,0.7],[28.0,0.45],[30.5,0.6],[33.0,0.4],[36.0,0.75],[38.0,0.6],[40.5,0.5],[42.0,0.25],[44.0,0.6],[47.0,0.45],[49.5,0.3],[51.0,0.55],[53.5,0.6],[56.0,0.35],[58.5,0.7],[60.0,0.25],[62.5,0.6],[64.0,0.35],[66.5,0.7],[68.0,0.4],[70.0,0.6],[75.0,0.6],[76.5,0.4],[79.5,0.65],[81.0,0.4],[83.5,0.25],[86.0,0.45],[88.5,0.6],[91.0,0.55],[92.5,0.25],[95.0,0.55],[97.5,0.4],[99.5,0.6],[104.0,0.5],[106.5,0.45],[108.5,0.6],[110.5,0.35],[111.5,0.65],[113.5,0.5],[115.5,0.4],[117.0,0.65],[119.0,0.35],[121.0,0.5],[127.5,0.55],[129.0,0.6],[131.5,0.55],[134.0,0.5],[136.5,0.35],[138.5,0.6],[140.5,0.4],[144.0,0.65],[146.0,0.55],[148.5,0.5],[151.0,0.6],[153.0,0.5],[155.5,0.65],[158.0,0.6],[160.5,0.55],[162.5,0.6],[164.5,0.5],[169.0,0.6],[171.0,0.5],[175.0,0.55],[177.0,0.45],[179.5,0.35],[182.0,0.65],[185.5,0.4],[187.5,0.5],[189.5,0.6],[191.5,0.45],[194.5,0.55],[196.5,0.6],[199.5,0.45],[200.5,0.6],[203.5,0.6],[206.5,0.35],[208.0,0.55],[210.5,0.3],[212.5,0.6],
[0.5,0.6],[1.0,0.3],[2.2,0.15],[2.8,0.75],[3.5,0.45],[4.2,0.2],[5.0,0.62],[5.8,0.35],[6.5,0.1],[7.2,0.55],[8.0,0.25],[9.5,0.5],[10.5,0.3],[11.5,0.7],[12.8,0.2],[14.2,0.6],[15.2,0.38],[16.0,0.15],[17.0,0.5],[18.8,0.3],[19.5,0.65],[20.8,0.2],[21.8,0.55],[23.0,0.35],[24.5,0.6],[25.0,0.25],[26.3,0.45],[27.2,0.6],[28.8,0.3],[29.8,0.5],[31.5,0.2],[32.2,0.65],[33.8,0.3],[35.0,0.55],[36.8,0.3],[37.5,0.1],[38.8,0.5],[39.8,0.25],[41.0,0.6],[42.5,0.45],[43.2,0.7],[44.5,0.3],[45.5,0.5],[46.2,0.2],[47.8,0.6],[48.5,0.35],[50.3,0.15],[51.5,0.7],[52.2,0.2],[53.0,0.45],[54.5,0.55],[55.8,0.2],[56.8,0.65],[57.8,0.45],[59.2,0.6],[60.8,0.4],[61.8,0.15],[62.8,0.5],[63.8,0.7],[65.0,0.25],[66.0,0.5],[67.8,0.3],[68.8,0.7],[69.5,0.45],[70.5,0.3],[71.5,0.65],[72.8,0.45],[74.0,0.7],[75.5,0.3],[77.0,0.7],[78.2,0.5],[79.0,0.2],[80.3,0.6],[81.5,0.3],[82.5,0.75],[83.0,0.45],[84.6,0.6],[85.8,0.3],[86.8,0.7],[87.2,0.2],[88.0,0.5],[89.8,0.3],[90.8,0.45],[91.5,0.65],[92.8,0.5],[93.8,0.35],[94.5,0.6],[96.0,0.45],[96.5,0.2],[97.8,0.7],[98.6,0.3],[100.0,0.5],[101.0,0.3],[102.0,0.65],[102.8,0.4],[103.8,0.25],[104.8,0.7],[105.5,0.45],[106.8,0.6],[107.8,0.2],[108.8,0.45],[109.5,0.7],[110.2,0.5],[111.0,0.3],[112.5,0.55],[113.0,0.7],[114.0,0.35],[115.2,0.6],[116.0,0.3],[117.5,0.45],[118.5,0.65],[119.5,0.4],[120.5,0.6],[121.8,0.45],[122.5,0.7],[126.5,0.5],[127.0,0.3],[128.0,0.65],[129.5,0.4],[130.5,0.7],[132.0,0.45],[133.0,0.6],[134.5,0.3],[135.0,0.75],[136.0,0.5],[137.0,0.25],[138.0,0.7],[139.5,0.55],[140.0,0.25],[141.0,0.6],[142.0,0.4],[143.5,0.7],[145.0,0.6],[145.8,0.3],[147.0,0.75],[148.0,0.45],[149.0,0.6],[150.0,0.3],[150.5,0.7],[152.0,0.45],[152.5,0.85],[154.0,0.55],[155.0,0.4],[156.0,0.7],[157.0,0.5],[158.5,0.7],[159.0,0.35],[160.0,0.8],[161.0,0.6],[162.0,0.3],[163.0,0.7],[164.0,0.5],[165.0,0.75],[166.0,0.4],[167.0,0.7],[168.5,0.45],[169.5,0.3],[170.5,0.65],[172.0,0.55],[173.0,0.3],[174.0,0.6],[175.5,0.4],[176.5,0.65],[178.0,0.55],[179.0,0.25],[180.0,0.7],[181.5,0.35],[182.5,0.5],[183.5,0.3],[184.8,0.5],[186.0,0.25],[187.0,0.7],[188.0,0.35],[189.0,0.45],[190.5,0.6],[191.0,0.3],[192.0,0.7],[193.0,0.45],[194.0,0.3],[195.0,0.6],[196.0,0.2],[197.5,0.5],[198.5,0.35],[199.0,0.7],[200.0,0.3],[201.0,0.5],[202.0,0.65],[203.0,0.3],[204.5,0.55],[205.5,0.7],[206.8,0.25],[207.5,0.5],[208.5,0.3],[209.5,0.6],[211.5,0.4],[212.8,0.3]
];

const bot1064 = [
[2.3,3.77],[8.2,3.62],[26.3,3.89],[39.4,4.0],[45.8,3.55],[54.6,3.62],[64.8,3.72],[69.5,3.58],[2.0,3.39],[0.3,3.03],[4.4,3.03],[1.5,2.5],[0.6,2.27],[2.9,2.03],[4.7,2.36],[5.2,1.7],[2.0,1.58],[6.7,1.6],[7.9,2.58],[8.8,2.36],[11.4,2.27],[12.6,2.36],[12.3,2.7],[14.9,2.22],[17.2,2.24],[16.1,3.41],[15.8,3.27],[19.0,3.41],[21.6,3.29],[19.3,3.08],[21.6,2.6],[24.0,2.77],[23.1,2.22],[23.6,2.72],[25.1,2.69],[26.0,3.22],[26.6,2.84],[27.2,1.84],[29.2,1.72],[30.4,3.46],[30.7,3.36],[31.0,2.69],[32.7,2.36],[34.2,2.53],[34.7,3.0],[37.1,2.65],[36.5,2.2],[40.0,2.17],[39.7,1.72],[41.2,3.27],[42.3,3.22],[42.3,2.08],[42.6,2.0],[45.3,1.91],[44.7,2.96],[45.8,2.7],[47.3,2.81],[47.3,2.15],[47.0,1.67],[47.6,1.6],[46.7,1.48],[44.7,1.39],[52.0,2.22],[52.3,2.5],[53.7,3.05],[53.4,3.24],[54.6,2.31],[55.8,3.15],[56.6,1.79],[57.5,2.81],[58.7,2.46],[59.6,2.12],[60.7,2.6],[63.1,1.81],[64.5,2.2],[64.0,3.12],[65.1,3.31],[69.2,1.53],[69.8,2.08],[71.8,1.34],[59.3,1.31],
[0.9,1.36],[1.5,0.89],[2.6,0.43],[4.1,0.29],[1.5,0.27],[0.3,0.84],[9.3,0.84],[9.0,0.27],[7.9,1.12],[12.3,1.05],[16.1,0.46],[18.4,1.29],[19.3,1.03],[21.3,1.0],[21.0,0.65],[21.3,0.46],[24.5,1.12],[24.2,0.27],[26.9,0.17],[28.3,0.62],[30.7,1.46],[31.8,0.36],[35.0,0.31],[37.1,0.72],[39.4,0.67],[39.4,0.2],[42.9,0.27],[44.7,0.48],[45.8,0.74],[52.6,0.74],[53.4,1.12],[57.5,0.93],[58.7,0.65],[62.2,0.36],[64.5,0.27],[66.9,0.22],[69.2,0.41],[71.5,1.12],
[75.0,4.05],[99.9,4.08],[80.0,3.84],[79.4,3.6],[82.3,3.55],[81.2,3.5],[74.5,3.24],[79.7,3.27],[87.0,3.36],[84.1,3.03],[80.6,3.03],[75.9,2.79],[77.7,2.74],[71.2,2.6],[100.4,3.24],[99.3,2.81],[101.0,2.89],[95.8,3.31],[96.7,3.15],[85.0,2.72],[88.8,2.86],[89.9,2.46],[83.5,2.67],[100.2,2.36],[95.8,2.12],[94.6,2.17],[92.3,2.22],[87.6,2.08],[85.3,2.12],[90.5,2.08],[73.6,2.0],[72.4,2.17],[78.5,1.79],[71.8,1.31],[80.6,1.41],[85.8,1.36],[95.2,1.34],[98.7,1.31],[73.6,0.89],[80.6,1.08],[77.7,0.5],[82.9,0.36],[86.4,0.34],[88.8,0.27],[92.3,0.31],[96.4,0.84],[99.3,0.55],[71.2,0.55],[94.0,0.5],
[105.7,3.6],[112.7,3.58],[105.1,3.31],[109.8,3.34],[115.3,3.27],[121.5,3.03],[112.9,3.31],[104.5,3.15],[106.6,2.93],[107.5,2.74],[111.0,2.5],[106.3,2.29],[110.4,2.2],[100.6,3.05],[111.8,1.79],[113.3,1.5],[103.9,1.62],[111.0,1.34],[112.1,1.17],[108.0,1.17],[106.3,0.74],[110.4,0.84],[114.5,1.08],[119.7,1.05],[116.2,0.79],[111.0,0.27],[114.5,0.36],[118.0,0.22],[122.1,0.31],[120.3,0.08],
[126.7,2.65],[126.7,1.72],[130.2,2.55],[133.7,2.46],[134.9,3.17],[141.6,3.46],[132.0,2.08],[136.1,2.03],[139.0,2.12],[140.7,1.89],[140.2,1.65],[131.4,1.46],[134.3,1.31],[141.0,1.17],[130.8,0.84],[136.1,0.89],[138.4,0.89],[126.7,0.65],[129.6,0.31],[132.0,0.55],[138.4,0.22],[139.6,0.17],[134.9,0.12],
[161.4,3.84],[146.5,3.55],[161.1,3.39],[141.9,3.46],[169.3,3.58],[167.0,3.46],[167.3,3.29],[180.7,3.39],[182.5,3.29],[182.5,3.03],[185.7,3.31],[189.8,3.39],[190.6,3.34],[194.4,3.24],[201.2,3.34],[205.0,3.27],[175.5,3.24],[166.7,3.15],[176.0,2.86],[174.3,3.1],[191.2,3.03],[187.1,3.12],[188.9,2.89],[143.3,2.72],[144.5,2.46],[141.6,2.93],[150.6,3.17],[152.4,3.03],[153.6,2.79],[156.2,2.77],[164.1,2.79],[161.7,2.53],[169.0,2.6],[167.3,2.74],[146.0,2.6],[148.0,2.27],[149.8,2.03],[150.3,2.36],[153.8,2.08],[156.2,1.93],[157.9,2.03],[160.0,1.98],[141.9,1.84],[148.0,1.84],[149.2,1.6],[150.9,1.55],[154.4,1.7],[157.9,1.72],[163.8,1.7],[165.0,1.53],[169.0,2.22],[172.8,1.89],[175.2,1.72],[177.5,1.98],[179.5,2.17],[181.3,2.08],[183.0,2.22],[185.4,2.27],[189.5,2.22],[191.2,2.41],[194.1,1.89],[199.1,1.77],[201.2,2.08],[204.1,2.36],[205.2,1.98],[208.7,2.22],[206.4,1.84],[212.0,1.98],[212.2,2.74],[179.5,1.46],[181.9,1.31],[186.0,1.48],[192.4,1.48],[195.3,1.48],[201.2,1.41],[202.9,1.12],[207.6,1.31],[209.9,1.2],[141.0,1.17],[152.7,1.41],[166.7,1.17],[169.0,1.27],[173.1,1.22],[180.4,1.22],[193.0,1.17],[143.9,0.84],[151.5,1.03],[159.7,1.03],[173.7,0.84],[184.2,0.89],[192.4,0.98],[198.8,0.93],[204.1,0.84],[208.7,0.36],[142.8,0.27],[148.0,0.31],[148.2,0.41],[163.2,0.22],[174.9,0.46],[183.0,0.27],[186.5,0.46],[191.2,0.36],[200.6,0.31],[202.9,0.12],[152.7,0.65],[158.5,0.84],[169.0,0.55],[179.0,0.55],[195.9,0.22],[148.8,0.35],[149.5,0.3],
[3.5,0.6],[7.0,0.2],[14.0,0.35],[18.5,0.15],[22.5,0.55],[27.5,0.4],[30.0,0.2],[33.5,0.6],[36.0,0.45],[41.5,0.35],[46.5,0.15],[50.0,0.5],[55.5,0.6],[60.5,0.45],[63.5,0.55],[66.0,0.4],[70.0,0.2],[72.5,0.3],[76.0,0.45],[79.0,0.25],[84.0,0.6],[87.5,0.45],[90.5,0.15],[94.5,0.35],[97.0,0.2],[104.5,0.5],[107.0,0.35],[109.5,0.55],[113.0,0.15],[116.5,0.45],[119.5,0.6],[128.0,0.45],[131.0,0.2],[133.5,0.65],[137.5,0.4],[141.8,0.55],[145.5,0.6],[147.0,0.2],[150.0,0.45],[154.5,0.3],[156.5,0.55],[160.5,0.4],[165.5,0.6],[168.0,0.35],[171.5,0.5],[177.0,0.3],[181.0,0.45],[185.0,0.6],[189.0,0.5],[193.5,0.3],[197.0,0.45],[199.5,0.55],[204.5,0.4],[207.0,0.15],[210.5,0.6],[212.5,0.45],
[0.8,0.5],[1.8,0.2],[3.0,0.35],[4.8,0.55],[6.0,0.3],[8.5,0.45],[10.0,0.6],[11.0,0.25],[13.0,0.55],[15.0,0.3],[16.8,0.7],[18.0,0.4],[20.0,0.3],[21.8,0.2],[23.5,0.45],[25.5,0.3],[27.0,0.6],[28.8,0.5],[31.0,0.4],[32.5,0.55],[34.5,0.2],[36.5,0.35],[38.5,0.5],[40.5,0.25],[42.0,0.6],[43.8,0.45],[45.0,0.3],[47.5,0.5],[49.0,0.2],[51.0,0.35],[53.0,0.25],[54.8,0.45],[57.0,0.2],[59.0,0.5],[61.5,0.3],[62.8,0.25],[65.0,0.6],[67.5,0.35],[69.0,0.55],[71.0,0.35],[73.5,0.6],[75.0,0.2],[77.0,0.3],[78.5,0.6],[80.0,0.35],[81.5,0.5],[83.0,0.3],[85.0,0.25],[86.0,0.55],[88.0,0.4],[89.5,0.2],[91.5,0.5],[93.0,0.6],[95.5,0.45],[98.0,0.3],[100.0,0.5],[103.0,0.3],[105.5,0.2],[106.0,0.6],[108.0,0.25],[110.0,0.4],[112.0,0.3],[114.0,0.55],[115.5,0.25],[117.5,0.3],[118.5,0.55],[120.8,0.35],[127.0,0.3],[129.0,0.5],[130.5,0.35],[132.5,0.4],[135.0,0.5],[136.5,0.6],[139.0,0.45],[140.5,0.3],[143.0,0.45],[144.8,0.2],[146.0,0.4],[147.5,0.55],[149.0,0.2],[151.0,0.45],[152.0,0.25],[153.5,0.55],[155.0,0.25],[157.5,0.45],[159.0,0.6],[161.5,0.35],[163.5,0.55],[164.5,0.3],[167.0,0.45],[169.5,0.25],[170.5,0.45],[172.5,0.3],[174.5,0.6],[176.0,0.45],[178.0,0.6],[180.0,0.3],[182.0,0.5],[183.5,0.6],[186.0,0.35],[188.0,0.25],[190.0,0.55],[192.0,0.3],[194.5,0.4],[196.0,0.45],[198.0,0.3],[201.0,0.6],[203.0,0.35],[205.0,0.5],[206.5,0.55],[208.5,0.45],[211.0,0.3],[212.0,0.55],
[3.5,2.6],[6.0,2.85],[10.0,2.0],[13.5,3.0],[18.0,2.6],[22.0,2.95],[25.0,2.35],[28.5,2.9],[33.0,2.75],[36.0,2.55],[40.5,2.9],[43.5,2.55],[49.0,2.35],[51.0,2.8],[56.0,2.5],[61.5,2.9],[66.5,2.75],[70.5,2.95],[74.0,2.5],[78.0,2.9],[83.0,2.95],[88.0,2.55],[92.8,2.6],[98.0,2.45],[103.5,2.6],[108.5,2.95],[113.5,2.7],[118.0,2.5],[128.5,2.95],[133.0,2.85],[138.0,2.65],[145.0,2.9],[155.0,2.55],[159.0,2.35],[163.0,2.55],[171.0,2.3],[178.5,2.6],[184.5,2.55],[188.0,2.65],[193.0,2.85],[197.0,2.7],[203.0,2.55],[208.0,2.8],[211.0,2.45]
];

// ---------- styles ----------
const FONT = '"Liberation Sans", Arial, Helvetica, sans-serif';
const C355 = "#5a00cc";
const C532 = "#80ff00";
const C1064 = "#ff5500";

function toSec(t: string) {
  const [h, m, s] = t.split(":").map(Number);
  return h * 3600 + m * 60 + s;
}
function tickMinutes(times: string[]) {
  const t0 = toSec(times[0]);
  return times.map((t) => (toSec(t) - t0) / 60);
}

function makeStar(color: string, r: number) {
  const c = document.createElement("canvas");
  const n = 2 * r + 1;
  c.width = n;
  c.height = n;
  const g = c.getContext("2d")!;
  g.strokeStyle = color;
  g.lineWidth = 1;
  const m = r + 0.5;
  g.beginPath();
  g.moveTo(0, m); g.lineTo(n, m);
  g.moveTo(m, 0); g.lineTo(m, n);
  g.moveTo(0.5, 0.5); g.lineTo(n - 0.5, n - 0.5);
  g.moveTo(n - 0.5, 0.5); g.lineTo(0.5, n - 0.5);
  g.stroke();
  return c;
}

const framePlugin = {
  id: "idlFrame",
  beforeDatasetsDraw(chart: any) {
    const { ctx, chartArea: a, scales } = chart;
    const ys = scales.y;
    const xs = scales.x;
    ctx.save();
    ctx.strokeStyle = "#000";
    ctx.lineWidth = 1;
    ctx.beginPath();
    const L = Math.round(a.left) + 0.5;
    const R = Math.round(a.right) - 0.5;
    const T = Math.round(a.top) + 0.5;
    const B = Math.round(a.bottom) - 0.5;
    ctx.rect(L, T, R - L, B - T);
    for (let i = 0; i <= 40; i++) {
      const py = Math.round(ys.getPixelForValue(i / 10)) + 0.5;
      const len = i % 10 === 0 ? 25 : 12;
      ctx.moveTo(L, py); ctx.lineTo(L + len, py);
      ctx.moveTo(R, py); ctx.lineTo(R - len, py);
    }
    xs.ticks.forEach((t: any) => {
      const px = Math.round(xs.getPixelForValue(t.value)) + 0.5;
      ctx.moveTo(px, T); ctx.lineTo(px, T + 7);
      ctx.moveTo(px, B); ctx.lineTo(px, B - 7);
    });
    ctx.stroke();
    ctx.restore();
  },
};

const titlePlugin = {
  id: "idlTitle",
  afterDraw(chart: any) {
    const opts = chart.options.plugins.idlTitle;
    if (!opts || !opts.show) return;
    const { ctx, chartArea: a } = chart;
    ctx.save();
    ctx.fillStyle = "#000";
    ctx.font = `bold 24px ${FONT}`;
    ctx.textBaseline = "middle";
    ctx.textAlign = "center";
    const w = ctx.measureText(titleText).width;
    const sx = 660 / w;
    ctx.translate((a.left + a.right) / 2, 70);
    ctx.scale(sx, 1);
    ctx.fillText(titleText, 0, 0);
    ctx.restore();
    // legend
    const colors = [C355, C532, C1064];
    ctx.save();
    ctx.fillStyle = "#000";
    ctx.font = `bold 23px ${FONT}`;
    ctx.textBaseline = "middle";
    ctx.textAlign = "left";
    colors.forEach((col, i) => {
      const cy = 185 + i * 16.5;
      const st = makeStar(col, 4);
      ctx.drawImage(st, 1424 - 4.5, Math.round(cy) - 4.5);
      ctx.fillText("=", 1435, cy - 1);
      ctx.save();
      ctx.translate(1462, cy - 1);
      ctx.scale(1.12, 1);
      ctx.fillText(legendLabels[i], 0, 0);
      ctx.restore();
    });
    ctx.restore();
  },
};

function buildChart(canvas: HTMLCanvasElement, cfg: any) {
  const ticksV = tickMinutes(cfg.times);
  const big = 7;
  const axisH = 80;
  const mk = (label: string, pts: number[][], color: string, order: number) => ({
    label,
    data: pts.map(([x, y]) => ({ x, y })),
    pointStyle: makeStar(color, big),
    pointRadius: big,
    borderColor: color,
    backgroundColor: color,
    showLine: false,
    order,
    clip: 0,
  });
  return new Chart(canvas, {
    type: "scatter",
    data: {
      datasets: [
        mk("532nm", cfg.d532, C532, 0),
        mk("1064nm", cfg.d1064, C1064, 1),
        mk("355nm", cfg.d355, C355, 2),
      ],
    },
    options: {
      responsive: false,
      animation: false,
      events: [],
      layout: { padding: { left: 85, right: 169, top: cfg.top, bottom: 845 - cfg.bottom - axisH } },
      plugins: {
        legend: { display: false },
        tooltip: { enabled: false },
        title: { display: false },
        idlTitle: { show: cfg.showTitle },
      } as any,
      scales: {
        x: {
          type: "linear",
          min: 0,
          max: ticksV[ticksV.length - 1],
          grid: { display: false, drawTicks: false },
          border: { display: false },
          afterBuildTicks: (s: any) => {
            s.ticks = ticksV.map((v) => ({ value: v }));
          },
          afterFit: (s: any) => {
            s.height = axisH;
          },
          ticks: {
            autoSkip: false,
            maxRotation: 0,
            minRotation: 0,
            padding: 16,
            color: "#000",
            font: { family: FONT, size: 21, weight: "bold", lineHeight: 1.06 },
            callback: (_v: any, i: number) => [cfg.times[i], cfg.coords[i]],
          },
        },
        y: {
          min: -0.11,
          max: 4.11,
          grid: { display: false, drawTicks: false },
          border: { display: false },
          afterBuildTicks: (s: any) => {
            s.ticks = yTicks.map((v) => ({ value: v }));
          },
          afterFit: (s: any) => {
            s.width = 70;
          },
          ticks: {
            padding: 10,
            color: "#000",
            font: { family: FONT, size: 18, weight: "bold" },
            callback: (v: any) => String(v),
          },
          title: {
            display: true,
            text: yTitle,
            color: "#000",
            font: { family: FONT, size: 21, weight: "bold" },
            padding: { top: 5, bottom: 0 },
          },
        },
      },
    } as any,
    plugins: [framePlugin, titlePlugin],
  });
}

export default function App() {
  const topRef = useRef<HTMLCanvasElement>(null);
  const botRef = useRef<HTMLCanvasElement>(null);

  useEffect(() => {
    const c1 = buildChart(topRef.current!, {
      times: topTimes, coords: topCoords, d355: top355, d532: top532, d1064: top1064,
      top: 93, bottom: 388, showTitle: true,
    });
    const c2 = buildChart(botRef.current!, {
      times: botTimes, coords: botCoords, d355: bot355, d532: bot532, d1064: bot1064,
      top: 465, bottom: 760, showTitle: false,
    });
    return () => {
      c1.destroy();
      c2.destroy();
    };
  }, []);

  return (
    <div style={{ position: "fixed", left: 0, top: 0, width: 1540, height: 845, background: "#fff", overflow: "hidden" }}>
      <canvas ref={topRef} width={1540} height={845} style={{ position: "absolute", left: 0, top: 0 }} />
      <canvas ref={botRef} width={1540} height={845} style={{ position: "absolute", left: 0, top: 0 }} />
    </div>
  );
}
